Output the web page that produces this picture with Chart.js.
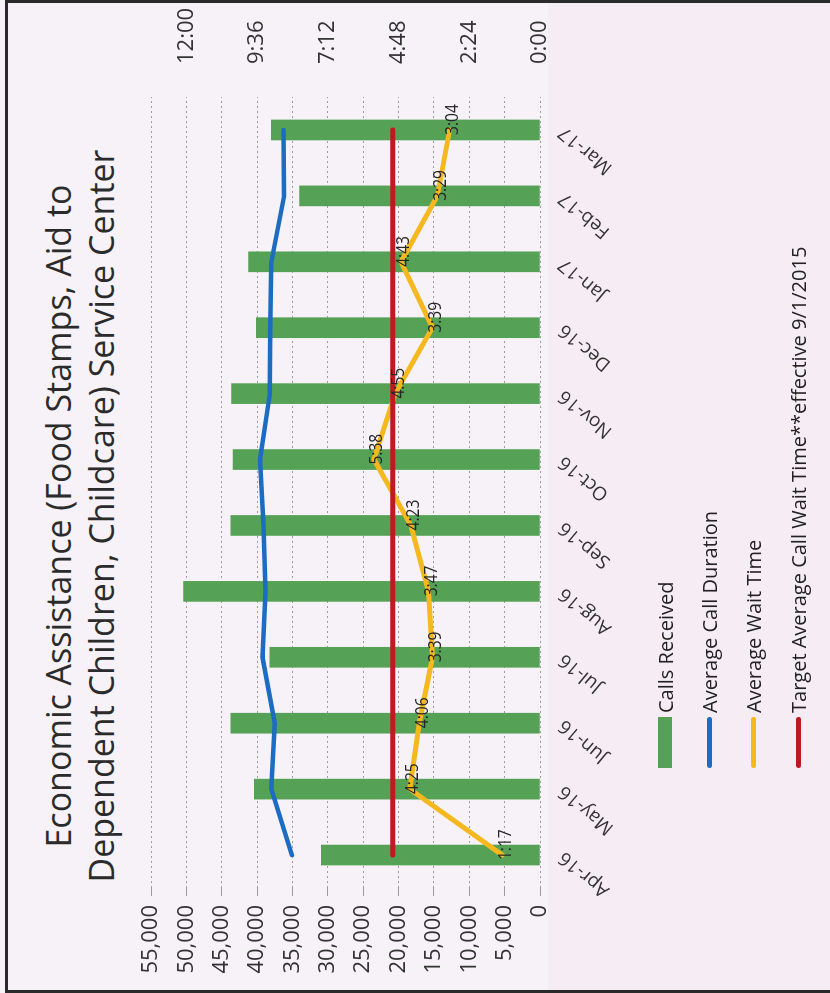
<!DOCTYPE html>
<html>
<head>
<meta charset="utf-8">
<script src="https://cdn.jsdelivr.net/npm/chart.js@4/dist/chart.umd.min.js"></script>
<style>
  html, body { margin: 0; padding: 0; }
  body { width: 830px; height: 993px; overflow: hidden; background: #f6f2f7; position: relative; font-family: 'Open Sans', sans-serif; }
  #tint  { position: absolute; left: 548px; top: 0; width: 282px; height: 993px; background: #f6edf4; }
  #frame { position: absolute; left: 5px; top: 0; width: 830px; height: 987px;
           border-left: 3px solid #2a2a2a; border-top: 3px solid #2a2a2a; border-bottom: 3px solid #2a2a2a; }
  /* the page was scanned sideways: build the chart upright, then turn it */
  #page  { position: absolute; left: 0; top: 0; width: 993px; height: 830px;
           transform-origin: 0 0; transform: translate(0, 993px) rotate(-90deg); }
  #chart { position: absolute; left: 0; top: 0; }
  .title { position: absolute; left: 0; width: 954px; text-align: center; font-size: 34px;
           line-height: 44px; color: #2b2b2b; white-space: nowrap; }
  .title span { display: inline-block; transform-origin: 50% 50%; }
  #legend { position: absolute; left: 225px; top: 0; }
  .row { position: absolute; left: 0; height: 30px; display: flex; align-items: center;
         white-space: nowrap; font-size: 20px; color: #222; }
  .sw { width: 51px; margin-right: 4px; }
</style>
</head>
<body>
<div id="tint"></div>
<div id="frame"></div>
<div id="page">
  <div class="title" style="top:36px"><span id="t1">Economic Assistance (Food Stamps, Aid to</span></div>
  <div class="title" style="top:79px"><span id="t2">Dependent Children, Childcare) Service Center</span></div>
  <canvas id="chart" width="993" height="830"></canvas>
  <div id="legend"></div>
</div>
<script>
/* ---- data (times are m:ss) ---- */
const MONTHS = ['Apr-16', 'May-16', 'Jun-16', 'Jul-16', 'Aug-16', 'Sep-16',
                'Oct-16', 'Nov-16', 'Dec-16', 'Jan-17', 'Feb-17', 'Mar-17'];
const CALLS_RECEIVED    = [30900, 40400, 43700, 38200, 50400, 43700, 43400, 43600, 40100, 41200, 34000, 38000];
const AVG_CALL_DURATION = ['8:25', '9:07', '9:00', '9:25', '9:19', '9:23', '9:30', '9:10', '9:09', '9:07', '8:41', '8:42'];
const AVG_WAIT_TIME     = ['1:17', '4:25', '4:06', '3:39', '3:47', '4:23', '5:38', '4:55', '3:39', '4:43', '3:29', '3:04'];
const TARGET_WAIT       = '5:00';
const CALL_MAX   = 55000;
const CALL_STEP  = 5000;
const TIME_TICKS = ['0:00', '2:24', '4:48', '7:12', '9:36', '12:00'];
const TIME_MAX   = '13:12';
const SERIES = ['Calls Received', 'Average Call Duration', 'Average Wait Time',
                'Target Average Call Wait Time**effective 9/1/2015'];

const COLORS = { calls: '#55a155', duration: '#1c6cc4', wait: '#f5b81f', target: '#bf1a22' };

/* ---- helpers ---- */
const toSec = (s) => { const [m, ss] = s.split(':').map(Number); return m * 60 + ss; };
const fmtSec = (v) => Math.floor(v / 60) + ':' + String(Math.round(v % 60)).padStart(2, '0');

Chart.defaults.font.family = "'Open Sans', sans-serif";
Chart.defaults.color = '#333';

// labels for the wait-time points (narrowed a bit, the original face is condensed)
const waitLabels = {
  id: 'waitLabels',
  afterDatasetsDraw(chart) {
    const ctx = chart.ctx;
    const meta = chart.getDatasetMeta(2);
    meta.data.forEach((pt, i) => {
      ctx.save();
      ctx.font = "19px 'Open Sans', sans-serif";
      ctx.fillStyle = '#262626';
      ctx.textAlign = 'left';
      ctx.textBaseline = 'middle';
      ctx.translate(pt.x - 5, pt.y + 3);
      ctx.scale(0.82, 1);
      ctx.fillText(AVG_WAIT_TIME[i], 0, 0);
      ctx.restore();
    });
  },
};

const chart = new Chart(document.getElementById('chart'), {
  data: {
    labels: MONTHS,
    datasets: [
      { type: 'bar', label: SERIES[0], data: CALLS_RECEIVED, yAxisID: 'y',
        backgroundColor: COLORS.calls, barThickness: 20, order: 4 },
      { type: 'line', label: SERIES[1], data: AVG_CALL_DURATION.map(toSec), yAxisID: 'y2',
        borderColor: COLORS.duration, borderWidth: 4.5, pointRadius: 0, tension: 0,
        borderCapStyle: 'round', borderJoinStyle: 'round', order: 3 },
      { type: 'line', label: SERIES[2], data: AVG_WAIT_TIME.map(toSec), yAxisID: 'y2',
        borderColor: COLORS.wait, borderWidth: 5, pointRadius: 0, tension: 0,
        borderCapStyle: 'round', borderJoinStyle: 'round', order: 2 },
      { type: 'line', label: SERIES[3], data: MONTHS.map(() => toSec(TARGET_WAIT)), yAxisID: 'y2',
        borderColor: COLORS.target, borderWidth: 5, pointRadius: 0,
        borderCapStyle: 'round', order: 1 },
    ],
  },
  options: {
    responsive: false,
    animation: false,
    devicePixelRatio: 1,
    layout: { padding: { top: 151, left: 0, right: 0, bottom: 0 } },
    plugins: { legend: { display: false }, title: { display: false }, tooltip: { enabled: false } },
    scales: {
      x: {
        type: 'category',
        offset: true,
        grid: { display: false },
        border: { display: false },
        ticks: { font: { size: 19 }, minRotation: 50, maxRotation: 50, padding: 6, color: '#333' },
        afterFit: (s) => { s.height = 290; },
      },
      y: {
        position: 'left',
        min: 0, max: CALL_MAX,
        grid: { color: '#9c9c9c', lineWidth: 1, tickLength: 8 },
        border: { display: false, dash: [2, 3] },
        ticks: { stepSize: CALL_STEP, padding: 9, font: { size: 22 }, color: '#333',
                 callback: (v) => v.toLocaleString('en-US') },
        afterFit: (s) => { s.width = 105; },
      },
      y2: {
        position: 'right',
        min: 0, max: toSec(TIME_MAX),
        grid: { display: false },
        border: { display: false },
        ticks: { padding: 25, font: { size: 22 }, color: '#333', callback: (v) => fmtSec(v) },
        afterBuildTicks: (s) => { s.ticks = TIME_TICKS.map((t) => ({ value: toSec(t) })); },
        afterFit: (s) => { s.width = 97; },
      },
    },
  },
  plugins: [waitLabels],
});

/* ---- legend, one entry per line, built from the datasets ---- */
const legendEl = document.getElementById('legend');
const ROW_Y = [665, 709, 753, 798];
chart.data.datasets.forEach((ds, i) => {
  const row = document.createElement('div');
  row.className = 'row';
  row.style.top = (ROW_Y[i] - 15) + 'px';
  const sw = document.createElement('div');
  sw.className = 'sw';
  if (ds.type === 'bar') {
    sw.style.height = '14px';
    sw.style.background = ds.backgroundColor;
  } else {
    sw.style.height = '5px';
    sw.style.borderRadius = '3px';
    sw.style.background = ds.borderColor;
  }
  const tx = document.createElement('span');
  tx.textContent = ds.label;
  row.appendChild(sw);
  row.appendChild(tx);
  legendEl.appendChild(row);
});

/* ---- squeeze title to the narrow face of the original ---- */
const t1 = document.getElementById('t1');
const t2 = document.getElementById('t2');
const k = 733 / t2.offsetWidth;
t1.style.transform = t2.style.transform = `scaleX(${k})`;
</script>
</body>
</html>
